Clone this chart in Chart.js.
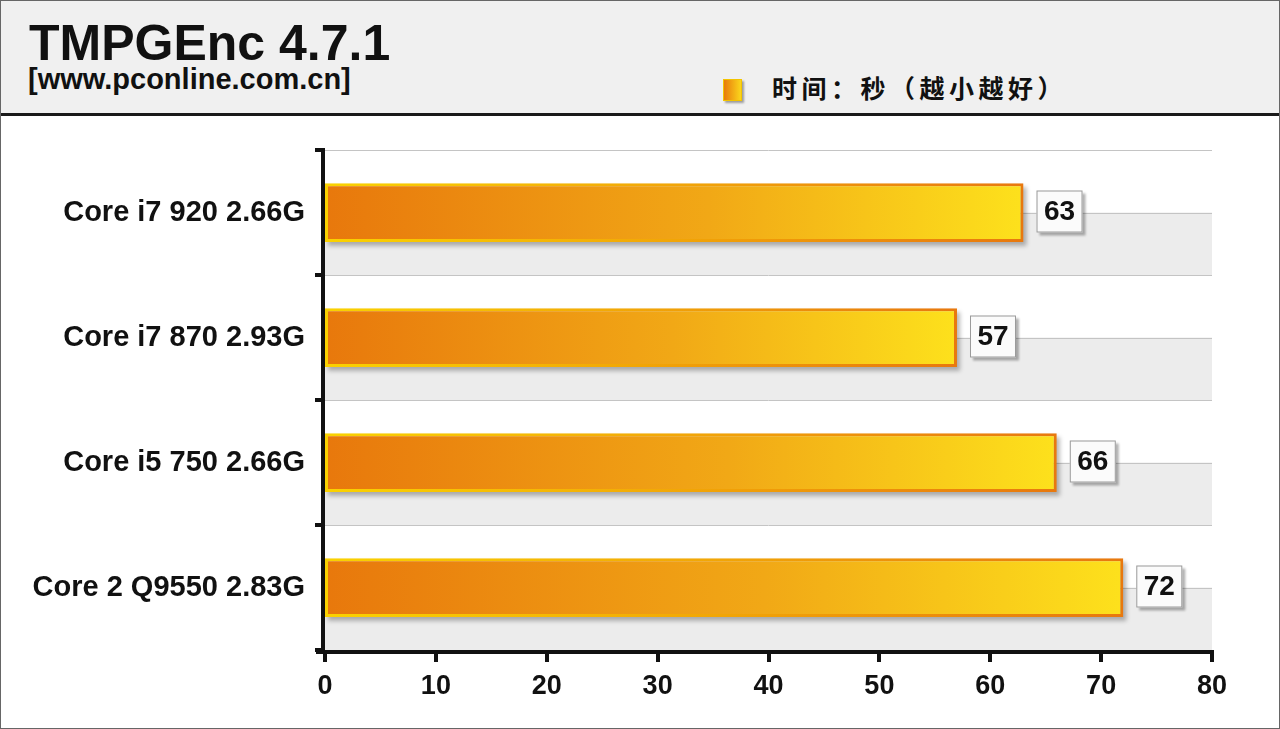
<!DOCTYPE html>
<html>
<head>
<meta charset="utf-8">
<script src="https://cdn.jsdelivr.net/npm/chart.js@4.4.0/dist/chart.umd.min.js"></script>
<style>
  html, body { margin: 0; padding: 0; background: #fff; }
  #wrap { position: relative; width: 1280px; height: 729px; overflow: hidden; font-family: Arial, 'Liberation Sans', sans-serif; }
  #head { position: absolute; left: 0; top: 0; width: 1280px; height: 113px; background: #f0f0f0; border-bottom: 3px solid #1a1a1a; }
  #title { position: absolute; left: 29px; top: 15px; font-size: 50px; font-weight: bold; color: #111; line-height: 56px; }
  #site { position: absolute; left: 28px; top: 63px; font-size: 29px; font-weight: bold; color: #111; line-height: 32px; }
  #legend { position: absolute; left: 723px; top: 70px; font-size: 25px; font-weight: bold; color: #111; letter-spacing: 4.5px;
    font-family: 'Noto Sans CJK SC', sans-serif; line-height: 34px; }
  #legend i { display: inline-block; width: 19px; height: 22px; vertical-align: -3px; margin-right: 30px;
    background: linear-gradient(90deg, #e87b0c, #fbd61c); box-shadow: 2px 2px 2px rgba(0,0,0,0.35); border: 1px solid #f3c400; box-sizing: border-box; }
  #plot { position: absolute; left: 0; top: 116px; width: 1280px; height: 613px; }
  #frame { position: absolute; left: 0; top: 0; width: 1280px; height: 729px; box-sizing: border-box; border: 1px solid #666; pointer-events: none; }
</style>
</head>
<body>
<div id="wrap">
  <div id="head">
    <div id="title">TMPGEnc 4.7.1</div>
    <div id="site">[www.pconline.com.cn]</div>
    <div id="legend"><i></i>时间：秒（越小越好）</div>
  </div>
  <div id="plot"><canvas id="chart-tmpgenc"></canvas></div>
  <div id="frame"></div>
</div>
<script>
// data
const categories = ['Core i7 920 2.66G', 'Core i7 870 2.93G', 'Core i5 750 2.66G', 'Core 2 Q9550 2.83G'];
const seconds = [63, 57, 66, 72];
const axisMin = 0;
const axisMax = 80;
const axisStep = 10;

const FONT = "Arial, 'Liberation Sans', sans-serif";

// striped background + grid lines (white upper half / grey lower half per category)
const stripePlugin = {
  id: 'stripes',
  beforeDatasetsDraw(chart) {
    const { ctx, chartArea: { left, right }, scales: { y } } = chart;
    const half = (y.getPixelForValue(1) - y.getPixelForValue(0)) / 2;
    ctx.save();
    categories.forEach((_, i) => {
      const c = y.getPixelForValue(i);
      ctx.fillStyle = '#ffffff';
      ctx.fillRect(left, c - half, right - left, half);
      ctx.fillStyle = '#ececec';
      ctx.fillRect(left, c, right - left, half);
    });
    ctx.strokeStyle = '#c4c4c4';
    ctx.lineWidth = 1;
    categories.forEach((_, i) => {
      const c = y.getPixelForValue(i);
      [c - half, c].forEach(py => {
        ctx.beginPath();
        ctx.moveTo(left, Math.round(py) + 0.5);
        ctx.lineTo(right, Math.round(py) + 0.5);
        ctx.stroke();
      });
    });
    // bar drop shadows
    const meta = chart.getDatasetMeta(0);
    ctx.fillStyle = 'rgba(0,0,0,0.28)';
    ctx.filter = 'blur(2px)';
    meta.data.forEach(bar => {
      const top = bar.y - bar.height / 2;
      ctx.fillRect(bar.base + 3, top + 4, bar.x - bar.base, bar.height);
    });
    ctx.filter = 'none';
    ctx.restore();
  }
};

// value boxes and heavy black axes
const axesPlugin = {
  id: 'axesAndValues',
  afterDatasetsDraw(chart) {
    const { ctx, chartArea: { left, right, top, bottom }, scales: { x, y } } = chart;
    const meta = chart.getDatasetMeta(0);
    ctx.save();
    meta.data.forEach((bar, i) => {
      const bx = bar.x + 13, bw = 46, bh = 42, by = bar.y - bh / 2 - 1;
      ctx.fillStyle = 'rgba(0,0,0,0.3)';
      ctx.filter = 'blur(1px)';
      ctx.fillRect(bx + 3, by + 3, bw, bh);
      ctx.filter = 'none';
      ctx.fillStyle = '#fbfbfb';
      ctx.fillRect(bx, by, bw, bh);
      ctx.strokeStyle = '#9a9a9a';
      ctx.lineWidth = 1;
      ctx.strokeRect(bx + 0.5, by + 0.5, bw - 1, bh - 1);
      ctx.fillStyle = '#111';
      ctx.font = 'bold 28px ' + FONT;
      ctx.textAlign = 'center';
      ctx.textBaseline = 'middle';
      ctx.fillText(seconds[i], bx + bw / 2, by + bh / 2 + 1);
    });

    const half = (y.getPixelForValue(1) - y.getPixelForValue(0)) / 2;
    ctx.fillStyle = '#111';
    // y axis line and ticks at category boundaries
    ctx.fillRect(left - 4, top - 2, 4, bottom - top + 6);
    categories.forEach((_, i) => {
      ctx.fillRect(left - 10, Math.round(y.getPixelForValue(i) - half) - 2, 8, 4);
    });
    ctx.fillRect(left - 10, bottom - 2, 8, 4);
    // x axis line and ticks
    ctx.fillRect(left - 9, bottom, right - left + 11, 4);
    for (let v = axisMin; v <= axisMax; v += axisStep) {
      const px = Math.round(x.getPixelForValue(v));
      ctx.fillRect(px - 2, bottom, 4, 12);
    }
    ctx.restore();
  }
};

function barGradient(ctx, reverse) {
  const chart = ctx.chart;
  const x = chart.scales && chart.scales.x;
  if (!x || !chart.chartArea || ctx.dataIndex === undefined) return '#f0a010';
  const x0 = x.getPixelForValue(0);
  const x1 = x.getPixelForValue(seconds[ctx.dataIndex]);
  if (!isFinite(x0) || !isFinite(x1)) return '#f0a010';
  const g = chart.ctx.createLinearGradient(x0, 0, x1, 0);
  if (reverse) {
    g.addColorStop(0, '#fad200');
    g.addColorStop(1, '#e8780e');
  } else {
    g.addColorStop(0, '#e8780c');
    g.addColorStop(0.55, '#f1a816');
    g.addColorStop(1, '#fde11c');
  }
  return g;
}

const el = document.getElementById('chart-tmpgenc');
el.chart = new Chart(el, {
  type: 'bar',
  data: {
    labels: categories,
    datasets: [{
      label: '时间：秒（越小越好）',
      data: seconds,
      backgroundColor: (c) => barGradient(c, false),
      borderColor: (c) => barGradient(c, true),
      borderWidth: 3,
      borderSkipped: false,
      barPercentage: 0.47,
      categoryPercentage: 1
    }]
  },
  plugins: [stripePlugin, axesPlugin],
  options: {
    indexAxis: 'y',
    responsive: true,
    maintainAspectRatio: false,
    animation: false,
    layout: { padding: { left: 0, right: 68, top: 34, bottom: 0 } },
    plugins: {
      legend: { display: false },
      tooltip: { enabled: false }
    },
    scales: {
      x: {
        min: axisMin,
        max: axisMax,
        ticks: { stepSize: axisStep, padding: 20, color: '#111', font: { family: FONT, size: 27, weight: 'bold' } },
        grid: { display: false, drawTicks: false },
        border: { display: false },
        afterFit: (s) => { s.height = 79; s.paddingLeft = 0; s.paddingRight = 0; }
      },
      y: {
        ticks: { padding: 20, color: '#111', font: { family: FONT, size: 29, weight: 'bold' } },
        grid: { display: false, drawTicks: false },
        border: { display: false },
        afterFit: (s) => { s.width = 325; s.paddingTop = 0; s.paddingBottom = 0; }
      }
    }
  }
});
</script>
</body>
</html>
